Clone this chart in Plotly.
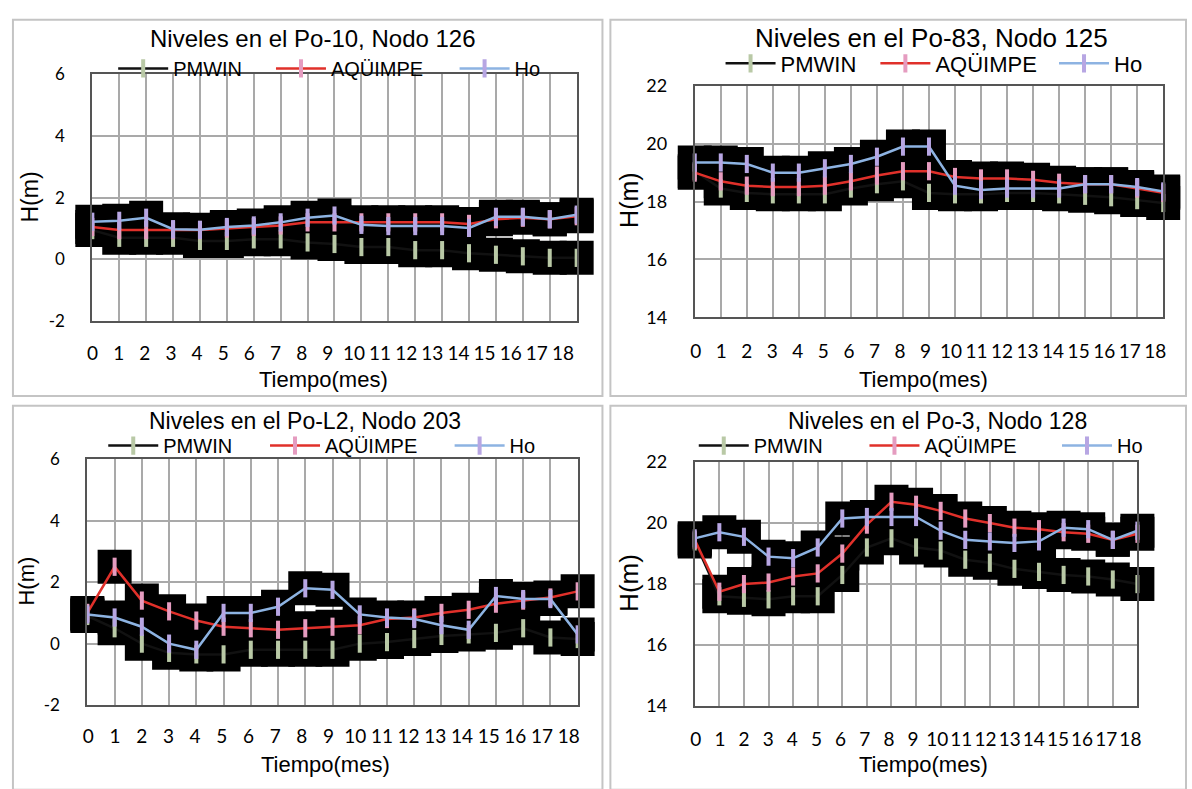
import plotly.graph_objects as go

W, H = 1192, 789

# ---------------- data ----------------
meses = list(range(19))
tick_labels = [str(m) for m in meses]

titles = ["Niveles en el Po-10, Nodo 126", "Niveles en el Po-83, Nodo 125",
          "Niveles en el Po-L2, Nodo 203", "Niveles en el Po-3, Nodo 128"]
series_names = ["PMWIN", "AQÜIMPE", "Ho"]

# Po-10, Nodo 126
po10_pmwin = [0.95, 0.7, 0.7, 0.7, 0.6, 0.6, 0.65, 0.65, 0.55, 0.5, 0.4, 0.4, 0.3, 0.3, 0.2, 0.15, 0.1, 0.05, 0.05]
po10_aquimpe = [1.05, 0.95, 0.95, 0.95, 0.95, 1.0, 1.05, 1.1, 1.2, 1.2, 1.2, 1.2, 1.2, 1.2, 1.15, 1.3, 1.35, 1.3, 1.4]
po10_ho = [1.22, 1.25, 1.35, 0.98, 0.96, 1.05, 1.1, 1.2, 1.35, 1.42, 1.12, 1.08, 1.08, 1.08, 1.02, 1.38, 1.38, 1.3, 1.45]

# Po-83, Nodo 125
po83_pmwin = [19.05, 18.45, 18.3, 18.25, 18.25, 18.25, 18.45, 18.6, 18.7, 18.3, 18.25, 18.25, 18.3, 18.3, 18.25, 18.2, 18.15, 18.05, 17.95]
po83_aquimpe = [19.0, 18.7, 18.55, 18.5, 18.5, 18.55, 18.7, 18.9, 19.05, 19.05, 18.85, 18.8, 18.8, 18.75, 18.65, 18.6, 18.6, 18.45, 18.3]
po83_ho = [19.35, 19.35, 19.3, 19.0, 19.0, 19.15, 19.3, 19.55, 19.9, 19.9, 18.55, 18.4, 18.45, 18.45, 18.45, 18.6, 18.6, 18.5, 18.35]

# Po-L2, Nodo 203
pol2_pmwin = [0.9, 0.5, 0.0, -0.3, -0.35, -0.35, -0.2, -0.2, -0.2, -0.2, 0.0, 0.05, 0.15, 0.25, 0.3, 0.35, 0.5, 0.2, 0.15]
pol2_aquimpe = [1.0, 2.5, 1.4, 1.05, 0.75, 0.55, 0.5, 0.45, 0.5, 0.55, 0.6, 0.8, 0.85, 1.0, 1.1, 1.3, 1.4, 1.5, 1.7]
pol2_ho = [0.95, 0.85, 0.55, 0.0, -0.2, 1.0, 1.0, 1.2, 1.8, 1.75, 0.95, 0.85, 0.8, 0.6, 0.45, 1.55, 1.45, 1.45, 0.3]

# Po-3, Nodo 128
po3_pmwin = [19.4, 17.6, 17.55, 17.5, 17.6, 17.6, 18.3, 19.2, 19.5, 19.2, 19.1, 18.8, 18.7, 18.5, 18.4, 18.3, 18.25, 18.15, 18.0]
po3_aquimpe = [19.45, 17.75, 18.0, 18.05, 18.25, 18.35, 19.0, 19.95, 20.7, 20.6, 20.4, 20.15, 20.0, 19.85, 19.8, 19.7, 19.65, 19.45, 19.65]
po3_ho = [19.5, 19.7, 19.55, 18.9, 18.85, 19.2, 20.15, 20.2, 20.2, 20.2, 19.75, 19.45, 19.4, 19.35, 19.4, 19.85, 19.8, 19.45, 19.75]

panel_data = [
    [po10_pmwin, po10_aquimpe, po10_ho],
    [po83_pmwin, po83_aquimpe, po83_ho],
    [pol2_pmwin, pol2_aquimpe, pol2_ho],
    [po3_pmwin, po3_aquimpe, po3_ho],
]
y_ranges = [[-2, 6], [14, 22], [-2, 6], [14, 22]]
y_tickvals = [[-2, 0, 2, 4, 6], [14, 16, 18, 20, 22], [-2, 0, 2, 4, 6], [14, 16, 18, 20, 22]]
y_ticktext = [["-2", "0", "2", "4", "6"], ["14", "16", "18", "20", "22"],
              ["-2", "0", "2", "4", "6"], ["14", "16", "18", "20", "22"]]

# ---------------- styling / layout geometry (pixels) ----------------
line_colors = ["#111111", "#e0302a", "#8db3e2"]
bar_colors = ["#b9c9a6", "#e59cc0", "#b7a6e3"]

# plot areas: left, right, top, bottom
plot_px = [(88, 576, 64, 318), (695, 1167, 76, 314), (83, 577, 460, 713), (695, 1141, 463, 714)]
# tick label first position / step / tick length (vertical offset)
label_px = [(87, 26.33, 15), (696, 25.72, 17), (84, 26.89, 14), (696, 24.33, 16)]
title_px = [(310, 27, 24), (934, 27, 26), (302, 421, 23), (940, 421, 23)]
legend_px = [([111, 270, 455], 58, 20), ([723, 879, 1059], 53, 22),
             ([101, 264, 450], 446, 20), ([696, 868, 1062], 446, 20)]
ytitle_px = [(25, 190, 23), (628, 193, 25), (22, 585, 22), (628, 587, 26)]
xtitle_px = [(321, 378), (925, 378), (323, 774), (925, 774)]
frames_px = [(8, 602, 8, 395), (610, 1190, 8, 395), (8, 602, 405, 800), (610, 1190, 405, 800)]
ytick_size = [17, 18, 17, 18]


def fx(px):
    return px / W


def fy(py):
    return 1 - py / H


fig = go.Figure()

# black blocks behind the lines
for p in range(4):
    for s in range(3):
        fig.add_trace(go.Scatter(
            x=meses, y=panel_data[p][s], mode="markers", cliponaxis=False,
            marker=dict(symbol="square", size=34, color="black", line=dict(width=0)),
            xaxis=f"x{p+1}", yaxis=f"y{p+1}", showlegend=False, hoverinfo="skip"))

legend_counter = 0
for p in range(4):
    for s in range(3):
        legend_counter += 1
        lname = "legend" if legend_counter == 1 else f"legend{legend_counter}"
        fig.add_trace(go.Scatter(
            x=meses, y=panel_data[p][s], mode="lines+markers", name=series_names[s],
            line=dict(color=line_colors[s], width=2.5), cliponaxis=False,
            marker=dict(symbol="line-ns", size=13, line=dict(width=4, color=bar_colors[s])),
            xaxis=f"x{p+1}", yaxis=f"y{p+1}", legend=lname))

# invisible traces so the tick-label axes are drawn
for p in range(4):
    fig.add_trace(go.Scatter(
        x=meses, y=panel_data[p][2], mode="markers", marker=dict(opacity=0),
        xaxis=f"x{p+5}", yaxis=f"y{p+1}", showlegend=False, hoverinfo="skip"))

layout = dict(width=W, height=H, margin=dict(l=0, r=0, t=0, b=0),
              paper_bgcolor="white", plot_bgcolor="white", showlegend=True)

shapes = []
annotations = []
legend_counter = 0
for p in range(4):
    L, R, T, B = plot_px[p]
    xd = [fx(L), fx(R)]
    yd = [fy(B), fy(T)]
    n = p + 1
    layout[f"xaxis{n}"] = dict(domain=xd, anchor=f"y{n}", range=[0, 18], tickvals=meses,
                               showticklabels=False, showgrid=True, gridcolor="#a9a9a9",
                               gridwidth=2, showline=True, mirror=True, linecolor="#555555",
                               linewidth=2, zeroline=False, ticks="", fixedrange=True)
    p0, step, tl = label_px[p]
    a = min(-(p0 - L) / step, -0.01)
    b = a + (R - L) / step
    layout[f"xaxis{n+4}"] = dict(domain=xd, anchor=f"y{n}", overlaying=f"x{n}", side="bottom",
                                 range=[a, b], tickvals=meses, ticktext=tick_labels,
                                 showgrid=False, showline=False, zeroline=False,
                                 ticks="outside", ticklen=tl, tickcolor="rgba(0,0,0,0)",
                                 tickfont=dict(family="Lato", size=19, color="black"),
                                 fixedrange=True)
    layout[f"yaxis{n}"] = dict(domain=yd, anchor=f"x{n}", range=y_ranges[p],
                               tickvals=y_tickvals[p], ticktext=y_ticktext[p],
                               showgrid=True, gridcolor="#a9a9a9", gridwidth=2,
                               showline=True, mirror=True, linecolor="#555555", linewidth=2,
                               zeroline=False, ticks="outside", ticklen=22,
                               tickcolor="rgba(0,0,0,0)",
                               tickfont=dict(family="Lato", size=ytick_size[p], color="black"),
                               fixedrange=True)
    # panel frame
    fl, fr, ft, fb = frames_px[p]
    shapes.append(dict(type="rect", xref="paper", yref="paper", x0=fx(fl), x1=fx(fr),
                       y0=fy(fb), y1=fy(ft), line=dict(color="#c4c4c4", width=2), layer="below"))
    # title
    tx, ty, ts = title_px[p]
    annotations.append(dict(text=titles[p], xref="paper", yref="paper", x=fx(tx), y=fy(ty),
                            xanchor="center", yanchor="middle", showarrow=False,
                            font=dict(family="Liberation Sans", size=ts, color="black")))
    # axis titles
    hx, hy, hs = ytitle_px[p]
    annotations.append(dict(text="H(m)", xref="paper", yref="paper", x=fx(hx), y=fy(hy),
                            xanchor="center", yanchor="middle", showarrow=False, textangle=-90,
                            font=dict(family="Liberation Sans", size=hs, color="black")))
    qx, qy = xtitle_px[p]
    annotations.append(dict(text="Tiempo(mes)", xref="paper", yref="paper", x=fx(qx), y=fy(qy),
                            xanchor="center", yanchor="middle", showarrow=False,
                            font=dict(family="Liberation Sans", size=22, color="black")))
    # legends
    xs, ly, lfs = legend_px[p]
    for s in range(3):
        legend_counter += 1
        lname = "legend" if legend_counter == 1 else f"legend{legend_counter}"
        layout[lname] = dict(x=fx(xs[s] - 2), y=fy(ly), xanchor="left", yanchor="middle",
                             orientation="h", bgcolor="rgba(0,0,0,0)", borderwidth=0,
                             itemwidth=50, tracegroupgap=0,
                             font=dict(family="Liberation Sans", size=lfs, color="black"))

layout["shapes"] = shapes
layout["annotations"] = annotations
fig.update_layout(**layout)

fig.write_html("out.html")
